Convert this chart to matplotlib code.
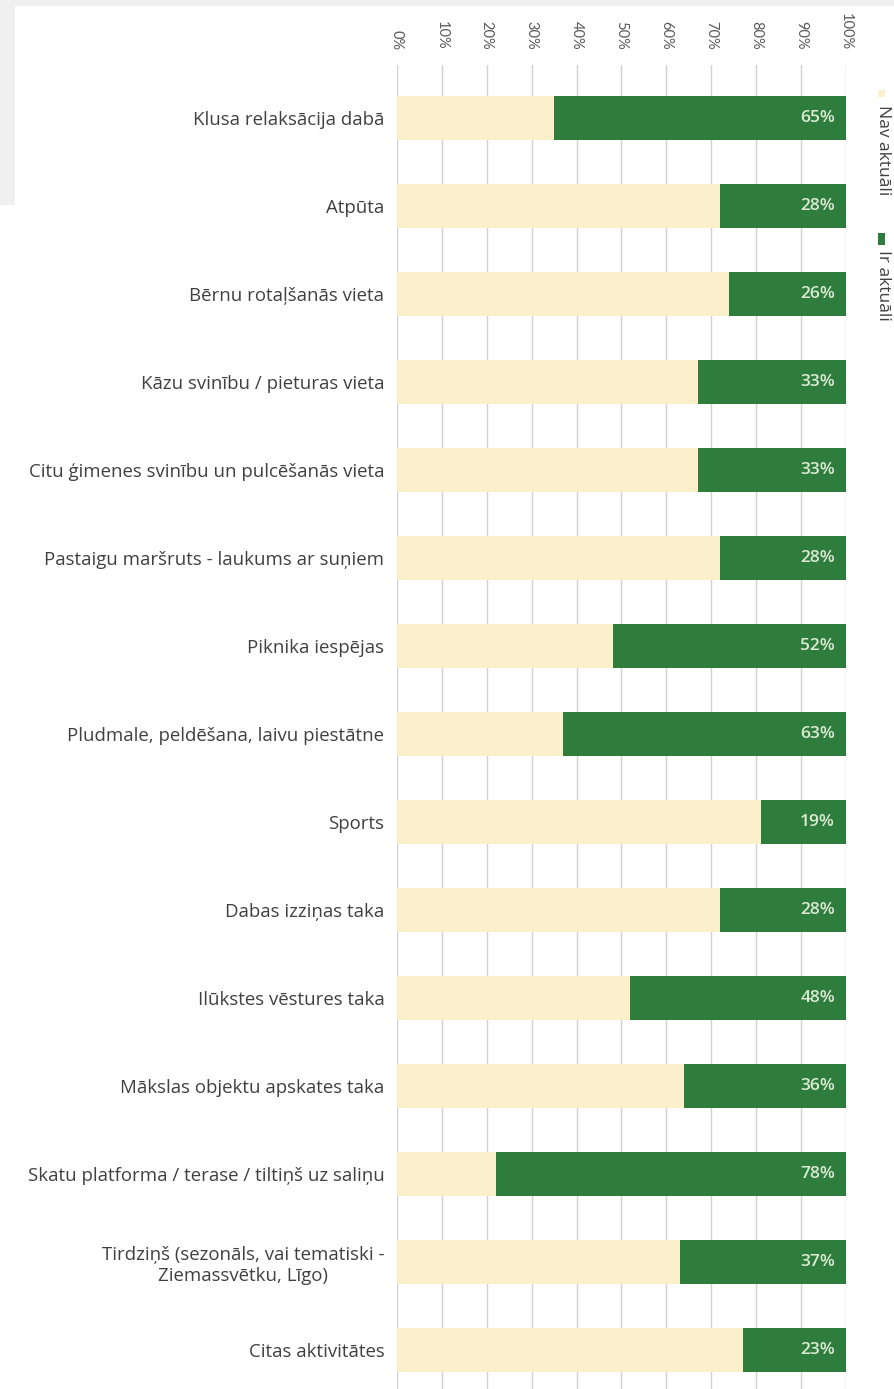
import matplotlib
matplotlib.use("Agg")
import matplotlib.pyplot as plt
from matplotlib.patches import Rectangle
import numpy as np

categories = [
    "Klusa relaksācija dabā",
    "Atpūta",
    "Bērnu rotaļšanās vieta",
    "Kāzu svinību / pieturas vieta",
    "Citu ģimenes svinību un pulcēšanās vieta",
    "Pastaigu maršruts - laukums ar suņiem",
    "Piknika iespējas",
    "Pludmale, peldēšana, laivu piestātne",
    "Sports",
    "Dabas izziņas taka",
    "Ilūkstes vēstures taka",
    "Mākslas objektu apskates taka",
    "Skatu platforma / terase / tiltiņš uz saliņu",
    "Tirdziņš (sezonāls, vai tematiski -\nZiemassvētku, Līgo)",
    "Citas aktivitātes",
]
ir_aktuali = [65, 28, 26, 33, 33, 28, 52, 63, 19, 28, 48, 36, 78, 37, 23]
nav_aktuali = [100 - v for v in ir_aktuali]
series_names = ["Nav aktuāli", "Ir aktuāli"]
xticks = [0, 10, 20, 30, 40, 50, 60, 70, 80, 90, 100]
xtick_labels = [f"{t}%" for t in xticks]

CREAM = "#FCEFCB"
GREEN = "#2E7D3C"
TEXT = "#404040"

plt.rcParams['font.family'] = ['Open Sans', 'DejaVu Sans']

W, H = 895, 1389
fig = plt.figure(figsize=(W / 100, H / 100), dpi=100)
fig.patch.set_facecolor("white")

# gray frame artifacts
fig.add_artist(Rectangle((0, 1 - 6 / H), 1, 6 / H, transform=fig.transFigure,
                         facecolor="#F0F0F0", edgecolor="none", zorder=-5))
fig.add_artist(Rectangle((0, 1 - 205 / H), 15 / W, 205 / H, transform=fig.transFigure,
                         facecolor="#F0F0F0", edgecolor="none", zorder=-5))

x0, x1 = 397, 846
ytop = 65
ax = fig.add_axes([x0 / W, 0, (x1 - x0) / W, (H - ytop) / H])
ax.set_facecolor("none")

y = np.arange(len(categories))
h = 0.51
ax.barh(y, nav_aktuali, height=h, color=CREAM, zorder=2, label=series_names[0])
ax.barh(y, ir_aktuali, left=nav_aktuali, height=h, color=GREEN, zorder=2,
        label=series_names[1])

for yi, v in zip(y, ir_aktuali):
    ax.annotate(f"{v}%", xy=(100, yi), xytext=(-8, 0), textcoords="offset points",
                ha="right", va="center", color="#DCEBD5", fontsize=12.5,
                fontweight="semibold", zorder=3)

ax.set_xlim(0, 100)
ax.set_ylim(14 + (H - 1350) / 88, -(118 - ytop) / 88)
ax.set_xticks(xticks)
ax.set_xticklabels(xtick_labels, rotation=-90, fontsize=10.5, color="#595959",
                   family=['Lato', 'DejaVu Sans'])
ax.xaxis.tick_top()
ax.tick_params(axis="x", length=0, pad=11)
ax.set_yticks(y)
ax.set_yticklabels(categories, fontsize=13.4, color=TEXT, ha="right")
for lbl in ax.get_yticklabels():
    lbl.set_multialignment("center")
ax.tick_params(axis="y", length=0, pad=9)
ax.grid(axis="x", color="#D0D0D0", linewidth=1, zorder=0)
for s in ax.spines.values():
    s.set_visible(False)

# legend (rotated)
def fy(py):
    return 1 - py / H

def fx(px):
    return px / W

fig.add_artist(Rectangle((fx(878), fy(97)), 7 / W, 7 / H, transform=fig.transFigure,
                         facecolor=CREAM, edgecolor="none"))
fig.text(fx(883), fy(105), series_names[0], rotation=-90, ha="center", va="top",
         fontsize=12.5, color=TEXT)
fig.add_artist(Rectangle((fx(878), fy(245)), 7 / W, 12 / H, transform=fig.transFigure,
                         facecolor=GREEN, edgecolor="none"))
fig.text(fx(883), fy(250), series_names[1], rotation=-90, ha="center", va="top",
         fontsize=12.5, color=TEXT)

fig.savefig("out.png", dpi=100, facecolor="white")
